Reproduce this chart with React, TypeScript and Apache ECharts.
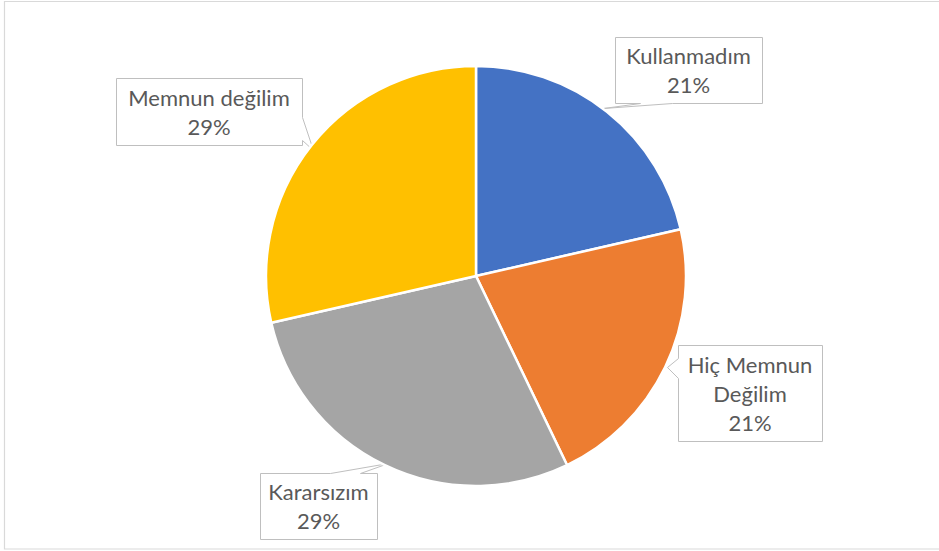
import React, { useEffect, useRef } from "react";
import * as echarts from "echarts";

const categories = ["Kullanmadım", "Hiç Memnun Değilim", "Kararsızım", "Memnun değilim"];
const labelText = ["Kullanmadım", "Hiç Memnun\nDeğilim", "Kararsızım", "Memnun değilim"];
const values = [3, 3, 4, 4];
const colors = ["#4472C4", "#ED7D31", "#A5A5A5", "#FFC000"];

// label box centers (layout only)
const labelPos: [number, number][] = [
  [688.5, 70],
  [750, 393],
  [318.5, 506],
  [209, 111.5],
];

const callouts: [number, number][][] = [
  [[615, 37], [762, 37], [762, 103], [672, 103], [603, 108], [640, 103], [615, 103]],
  [[678, 345], [822, 345], [822, 441], [678, 441], [678, 378], [667, 367], [678, 358]],
  [[260, 473], [330, 473], [388, 463], [360, 473], [377, 473], [377, 539], [260, 539]],
  [[116, 78], [302, 78], [302, 117], [313, 150], [302, 140], [302, 145], [116, 145]],
];

export default function App() {
  const ref = useRef<HTMLDivElement>(null);
  useEffect(() => {
    const chart = echarts.init(ref.current!, null, { renderer: "svg" });
    chart.setOption({
      animation: false,
      backgroundColor: "#ffffff",
      graphic: [
        {
          type: "rect",
          shape: { x: 4.5, y: 1.5, width: 940, height: 547.5 },
          style: { fill: "none", stroke: "#d9d9d9", lineWidth: 1.2 },
          z: 0,
        },
        ...callouts.map((pts) => ({
          type: "polygon",
          shape: { points: pts.map(([x, y]) => [x + 0.5, y + 0.5]) },
          style: { fill: "#ffffff", stroke: "#bfbfbf", lineWidth: 1 },
          z: 0,
        })),
      ],
      series: [
        {
          type: "pie",
          center: [476, 276],
          radius: 210,
          startAngle: 90,
          clockwise: true,
          percentPrecision: 0,
          z: 5,
          itemStyle: { borderColor: "#ffffff", borderWidth: 2.5 },
          label: {
            show: true,
            position: "outside",
            color: "#595959",
            fontFamily: "Lato, 'Open Sans', sans-serif",
            fontSize: 22,
            lineHeight: 29,
            align: "center",
            formatter: (p: any) => `${labelText[p.dataIndex]}\n${p.percent}%`,
          },
          labelLine: { show: false },
          labelLayout: (p: any) => ({
            x: labelPos[p.dataIndex][0],
            y: labelPos[p.dataIndex][1],
            align: "center",
            verticalAlign: "middle",
          }),
          emphasis: { disabled: true },
          data: categories.map((name, i) => ({
            name,
            value: values[i],
            itemStyle: { color: colors[i] },
          })),
        },
      ],
    });
    return () => chart.dispose();
  }, []);
  return (
    <div
      ref={ref}
      style={{ position: "absolute", left: 0, top: 0, width: 939, height: 551 }}
    />
  );
}
